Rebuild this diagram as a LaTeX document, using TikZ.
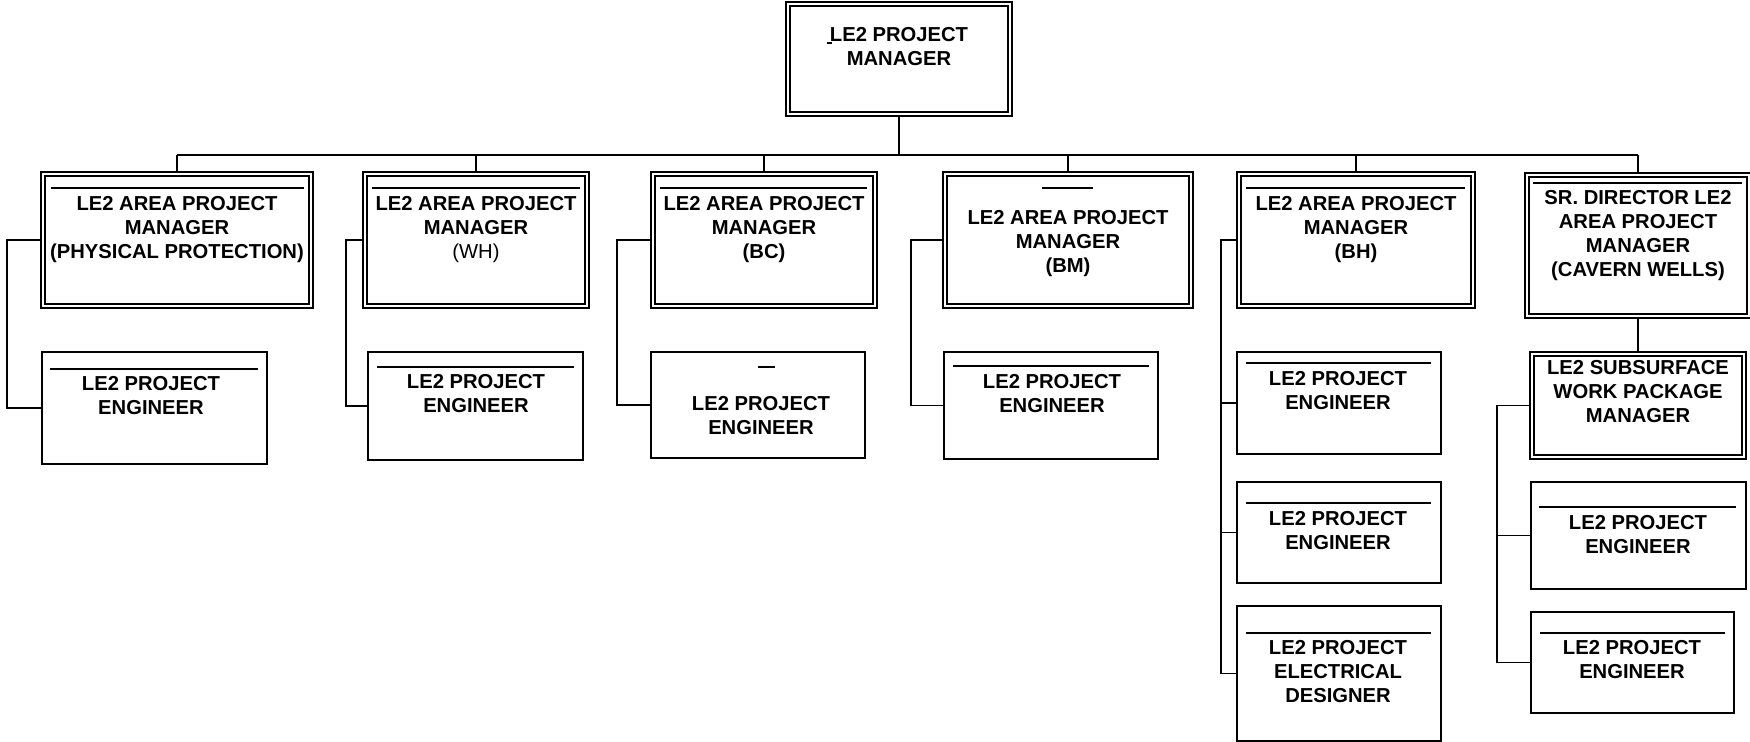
\documentclass[tikz,border=0pt]{standalone}
\usepackage{fontspec}
\setmainfont{Liberation Sans}
\begin{document}
\begin{tikzpicture}[x=0.5pt,y=-0.5pt,
  dbox/.style={draw, double, double distance=1.2pt, line width=0.9pt, inner sep=0pt, outer sep=1.05pt, rectangle},
  sbox/.style={draw, line width=1pt, inner sep=0pt, outer sep=0pt, rectangle},
  lbl/.style={font=\bfseries\fontsize{10.1}{12}\selectfont, align=center, inner sep=0pt, anchor=north},
  conn/.style={line width=0.9pt},
  bar/.style={line width=1pt}]
\useasboundingbox[fill=white] (0,0) rectangle (1750,742);

% ---- boxes ----
\node[dbox, minimum width=111pt, minimum height=55pt] (top) at (899,59) {};
\node[dbox, minimum width=134pt, minimum height=66pt] (pp) at (177,240) {};
\node[dbox, minimum width=111pt, minimum height=66pt] (wh) at (476,240) {};
\node[dbox, minimum width=111pt, minimum height=66pt] (bc) at (764,240) {};
\node[dbox, minimum width=123pt, minimum height=66pt] (bm) at (1068,240) {};
\node[dbox, minimum width=117pt, minimum height=66pt] (bh) at (1356,240) {};
\node[dbox, minimum width=111pt, minimum height=70.5pt] (sr) at (1638,245.5) {};
\node[dbox, minimum width=106pt, minimum height=51.5pt] (wp) at (1638,405.5) {};

\node[sbox, minimum width=112.5pt, minimum height=56pt] (ppe) at (154.5,408) {};
\node[sbox, minimum width=107.5pt, minimum height=54pt] (whe) at (475.5,406) {};
\node[sbox, minimum width=107pt, minimum height=53pt] (bce) at (758,405) {};
\node[sbox, minimum width=107pt, minimum height=53.5pt] (bme) at (1051,405.5) {};
\node[sbox, minimum width=102pt, minimum height=51pt] (bhe1) at (1339,403) {};
\node[sbox, minimum width=102pt, minimum height=50.5pt] (bhe2) at (1339,532.5) {};
\node[sbox, minimum width=102pt, minimum height=67.5pt] (bhd) at (1339,673.5) {};
\node[sbox, minimum width=107.5pt, minimum height=53.5pt] (wpe1) at (1638.5,535.5) {};
\node[sbox, minimum width=101.5pt, minimum height=50.5pt] (wpe2) at (1632.5,662.5) {};

% ---- bars inside boxes ----
\draw[line width=0.6pt] (827,43) -- (832,43);
\draw[bar] (51,188) -- (304,188);
\draw[bar] (372,188) -- (580,188);
\draw[bar] (660,188) -- (867,188);
\draw[bar] (1042,188) -- (1093,188);
\draw[bar] (1246,188) -- (1465,188);
\draw[bar] (1533,183) -- (1742,183);
\draw[line width=1.3pt] (1538,352) -- (1735,352);
\draw[bar] (50,369) -- (258,369);
\draw[bar] (377,367) -- (574,367);
\draw[bar] (758,367) -- (775,367);
\draw[bar] (953,366) -- (1149,366);
\draw[bar] (1246,363) -- (1431,363);
\draw[bar] (1246,503) -- (1431,503);
\draw[bar] (1246,633) -- (1431,633);
\draw[bar] (1539,507) -- (1736,507);
\draw[bar] (1540,633) -- (1725,633);

% ---- labels ----
\node[lbl] (ttop) at (899,27) {LE2 PROJECT\\MANAGER};
\node[lbl] (tpp) at (177,196) {LE2 AREA PROJECT\\MANAGER\\(PHYSICAL PROTECTION)};
\node[lbl] (twh) at (476,196) {LE2 AREA PROJECT\\MANAGER\\{\mdseries(WH)}};
\node[lbl] (tbc) at (764,196) {LE2 AREA PROJECT\\MANAGER\\(BC)};
\node[lbl] (tbm) at (1068,210) {LE2 AREA PROJECT\\MANAGER\\(BM)};
\node[lbl] (tbh) at (1356,196) {LE2 AREA PROJECT\\MANAGER\\(BH)};
\node[lbl] (tsr) at (1638,190) {SR. DIRECTOR LE2\\AREA PROJECT\\MANAGER\\(CAVERN WELLS)};
\node[lbl] (twp) at (1638,360) {LE2 SUBSURFACE\\WORK PACKAGE\\MANAGER};
\node[lbl] (tppe) at (151,376) {LE2 PROJECT\\ENGINEER};
\node[lbl] (twhe) at (476,374) {LE2 PROJECT\\ENGINEER};
\node[lbl] (tbce) at (761,396) {LE2 PROJECT\\ENGINEER};
\node[lbl] (tbme) at (1052,374) {LE2 PROJECT\\ENGINEER};
\node[lbl] (tbhe1) at (1338,371) {LE2 PROJECT\\ENGINEER};
\node[lbl] (tbhe2) at (1338,511) {LE2 PROJECT\\ENGINEER};
\node[lbl] (tbhd) at (1338,640) {LE2 PROJECT\\ELECTRICAL\\DESIGNER};
\node[lbl] (twpe1) at (1638,515) {LE2 PROJECT\\ENGINEER};
\node[lbl] (twpe2) at (1632,640) {LE2 PROJECT\\ENGINEER};

% ---- connectors ----
\coordinate (busL) at (177,155);
\coordinate (busR) at (1638,155);
\draw[conn] (busL) -- (busR);
\draw[conn] (top.south) -- (top.south |- busL);
\foreach \n in {pp,wh,bc,bm,bh,sr}
  \draw[conn] (\n.north) -- (\n.north |- busL);

\draw[conn] (pp.west) -- ++(-34,0) |- (ppe.west);
\draw[conn] (wh.west) -- ++(-17,0) |- (whe.west);
\draw[conn] (bc.west) -- ++(-34,0) |- (bce.west);
\draw[conn] (bm.west) -- ++(-32,0) |- (bme.west);
\draw[conn] (bh.west) -- ++(-16,0) coordinate (bhv) |- (bhd.west);
\draw[conn] (bhv |- bhe1.west) -- (bhe1.west);
\draw[conn] (bhv |- bhe2.west) -- (bhe2.west);
\draw[conn] (sr.south) -- (wp.north);
\draw[conn] (wp.west) -- ++(-33,0) coordinate (wpv) |- (wpe2.west);
\draw[conn] (wpv |- wpe1.west) -- (wpe1.west);
\end{tikzpicture}
\end{document}
